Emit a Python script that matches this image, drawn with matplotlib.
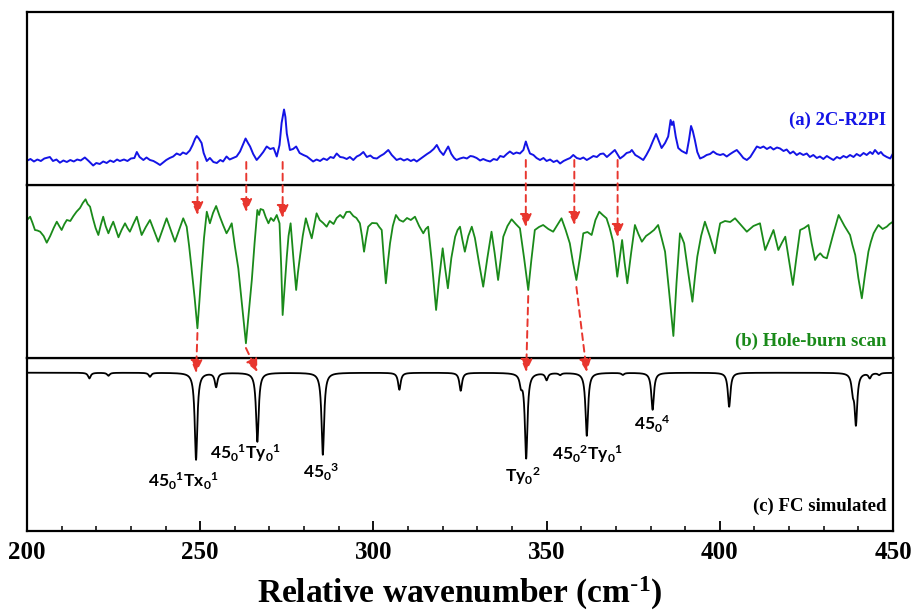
import numpy as np
import matplotlib
matplotlib.use("Agg")
import matplotlib.pyplot as plt
from matplotlib.patches import ConnectionPatch
from matplotlib.ticker import MultipleLocator

plt.rcParams["mathtext.default"] = "regular"

# ---------------- data ----------------
# (a) 2C-R2PI spectrum: wavenumber (cm^-1), signal (arb. units)
r2pi = [
    (200, 24.3), (201, 26), (202, 23.5), (203, 25.5), (204, 24), (205, 26.5),
    (206.6, 28), (207.5, 24), (208.5, 25.5), (209.5, 22.3), (210.5, 24.5),
    (211.5, 23), (212.5, 25), (213.5, 23.5), (214.5, 25.5), (215.5, 24.5),
    (216.7, 27.5), (217.8, 24), (219.1, 19.5), (220, 22), (221, 21), (222, 23.5),
    (223, 22), (224, 24.5), (225, 23), (226, 25.5), (226.8, 24), (228, 25.5),
    (229, 24), (230, 26.5), (231, 27), (231.7, 33), (232.5, 28), (233.6, 25),
    (234.5, 27.5), (235.5, 25), (236.5, 24), (237.5, 22), (238.4, 20),
    (239.3, 22.5), (240.2, 25), (241.2, 27), (242.2, 28.5), (243.2, 31.5),
    (244.2, 30), (245, 32.5), (246, 31), (247, 34.5), (247.8, 40), (248.5, 46),
    (249, 49), (249.6, 46.5), (250.4, 42), (251, 32), (251.9, 24), (252.8, 27),
    (253.8, 23), (254.8, 22), (255.8, 25), (256.6, 23.5), (257.6, 28.5),
    (258.5, 25.5), (259.5, 27), (260.5, 28.5), (261.5, 33.5), (262.3, 40),
    (263.1, 46.5), (263.8, 42), (264.4, 38.5), (265.3, 31), (266.3, 25),
    (267.3, 29), (268.2, 33), (269.2, 38.5), (270.2, 36), (271.2, 37),
    (272.1, 28.5), (272.9, 40), (273.5, 62), (274.2, 75.5), (274.6, 68),
    (275, 51.5), (275.5, 42), (275.9, 35), (276.8, 36), (277.7, 38.5),
    (278.7, 32), (279.8, 30), (280.8, 28.5), (281.7, 26), (282.6, 23.5),
    (283.6, 25.5), (284.6, 24), (285.6, 26.5), (286.6, 25), (287.6, 28),
    (288.5, 27), (289.4, 31.5), (290.4, 28), (291.3, 27.5), (292.3, 26),
    (293.2, 28), (294.2, 25), (295.2, 28.5), (296.1, 30), (297.1, 33),
    (298.1, 28), (299.1, 29.5), (300, 27), (301, 26.5), (302, 29), (303, 31),
    (304.3, 35), (305.3, 30), (306.7, 25), (307.8, 26.5), (308.8, 24.5),
    (309.8, 26), (310.8, 24), (311.7, 25.5), (312.5, 23.5), (313.5, 26),
    (314.5, 28.5), (315.5, 31), (316.4, 33), (317.4, 36), (318.3, 40),
    (319.2, 34), (320.2, 30), (321, 35), (321.6, 38.5), (322.5, 31),
    (323.3, 27), (324, 25), (325, 26.5), (326, 27.5), (327, 26.5), (328, 29),
    (328.8, 28.5), (329.8, 27), (330.8, 24.5), (331.7, 26), (332.7, 24.5),
    (333.7, 23.5), (334.7, 26), (335.7, 25), (336.6, 29), (337.6, 28),
    (338.5, 31), (339.4, 33.5), (340.4, 31), (341.3, 32.5), (342.3, 31.5),
    (343.3, 35), (344, 43.5), (344.6, 37), (345.2, 31.5), (346.2, 30),
    (347.1, 27), (348.1, 25), (349.1, 27), (350, 24), (351, 25.5), (352, 23),
    (353, 24.5), (353.9, 21.5), (354.9, 24), (355.8, 25.5), (356.8, 27),
    (357.7, 30), (358.7, 27), (359.7, 26), (360.6, 27.5), (361.6, 25),
    (362.6, 27), (363.5, 29), (364.5, 28), (365.5, 31), (366.4, 31.5),
    (367.4, 28), (368.4, 31), (369.7, 35), (370.4, 31), (371.2, 26.5),
    (372.2, 29), (373.1, 32), (374.1, 33), (374.6, 35), (375.6, 30),
    (376.6, 28), (377.9, 25), (378.8, 30), (379.8, 36.5), (380.7, 44),
    (381.6, 51), (382.4, 44), (383.2, 37), (384.2, 42), (385.1, 48.5),
    (385.8, 65), (386.2, 60), (386.6, 63.5), (387.3, 48), (388, 37), (389, 34),
    (390.4, 31.5), (391.1, 45), (391.7, 59), (392.2, 54), (392.8, 45),
    (393.5, 33), (394.3, 26.5), (395.3, 28), (396.2, 30), (397.2, 31),
    (398.1, 33.5), (399.1, 31), (400.1, 30), (401, 31), (402, 28.5), (403, 31),
    (403.9, 33), (404.9, 35), (405.9, 31), (406.8, 27), (407.8, 25),
    (408.8, 28), (409.7, 33), (410.7, 38.5), (411.7, 37), (412.6, 38.5),
    (413.6, 36), (414.6, 38), (415.5, 35.5), (416.5, 37.5), (417.4, 36.5),
    (418.4, 34), (419.3, 35.5), (420.3, 31.5), (421.2, 33.5), (422.2, 30),
    (423.1, 32), (424.1, 30), (425.1, 31.5), (426, 28), (427, 30), (428, 27),
    (428.9, 28.5), (429.9, 26), (430.9, 29), (431.8, 27), (432.8, 25),
    (433.8, 28), (434.7, 26.5), (435.7, 29), (436.6, 27.5), (437.6, 30),
    (438.6, 28), (439.5, 31), (440.5, 29), (441.5, 32), (442.4, 30),
    (443.4, 33), (444.1, 31), (444.8, 35), (445.8, 31), (446.5, 33),
    (447.2, 30), (448.2, 28), (449.2, 26.5), (450, 31.5),
]
r2pi_x = [p[0] for p in r2pi]
r2pi_y = [p[1] for p in r2pi]

# (b) hole-burn scan: wavenumber (cm^-1), signal (arb. units)
holeburn = [
    (200, 138), (200.9, 141.3), (201.6, 135), (202.3, 128), (203, 127.5),
    (203.8, 126.3), (204.8, 122), (205.7, 115.3), (206.7, 122), (207.7, 130),
    (208.6, 136.3), (209.3, 132), (210, 128), (210.8, 134), (211.5, 138),
    (212.5, 137), (213.4, 142), (214.3, 146.3), (215.3, 150), (216.1, 155),
    (216.9, 158.7), (217.5, 154), (218.2, 151.3), (219, 140), (219.8, 130),
    (220.6, 123), (221.3, 133), (222, 141.3), (222.7, 132), (223.5, 124.7),
    (224.2, 131), (224.9, 136.3), (225.7, 128), (226.4, 120.7), (227.3, 128),
    (228.3, 134.7), (229, 130), (229.7, 126.3), (230.7, 134), (231.7, 141.3),
    (232.4, 132), (233.1, 123), (234.3, 131), (235.5, 138), (236.7, 127),
    (237.9, 116.3), (239.1, 128), (240.3, 139.7), (241.5, 128), (242.7, 116.3),
    (243.9, 128), (245.1, 139.7), (246.1, 131.3), (246.8, 112), (247.5, 89.7),
    (248.4, 60), (249.2, 29.7), (249.8, 58), (250.4, 88), (251.1, 120),
    (251.9, 146.3), (252.8, 134.7), (253.7, 145), (254.6, 152), (255.6, 142),
    (256.6, 133), (257.6, 124.7), (258.3, 129), (259.1, 134.7), (260, 112),
    (261, 89.7), (262.1, 52), (263.2, 14.7), (264, 45), (264.9, 78),
    (265.7, 115), (266.5, 148), (267, 143), (267.4, 149), (268.2, 148),
    (268.9, 141), (269.7, 134.7), (270.4, 140), (271.2, 137), (272.1, 143),
    (272.9, 134.7), (273.4, 90), (273.8, 43), (274.4, 72), (275, 101.3),
    (275.5, 122), (276.1, 134.7), (276.9, 100), (277.7, 68), (278.2, 85),
    (278.8, 101.3), (279.6, 122), (280.5, 139.7), (281.3, 130), (282.2, 119.7),
    (282.9, 132), (283.6, 144.7), (284.5, 138), (285.5, 135), (286.5, 131.3),
    (287.4, 137), (288.5, 134), (289.4, 140), (290.4, 143), (291.3, 140),
    (292.2, 146), (293.2, 146.3), (294.2, 142), (295.1, 140), (296.1, 134.7),
    (296.7, 122), (297.3, 106.3), (297.9, 120), (298.5, 131.3), (299.6, 135),
    (301, 134.7), (301.7, 131), (302.4, 128), (303, 100), (303.6, 74.7),
    (304.2, 96), (304.8, 114.7), (305.6, 132), (306.5, 143), (307.5, 138),
    (308.6, 136.3), (309.7, 140), (310.8, 138), (312, 141.3), (313.2, 132),
    (314.4, 124.7), (315.1, 129), (315.8, 131.3), (316.9, 95), (318.1, 48),
    (319, 80), (320, 109.7), (320.7, 90), (321.5, 69.7), (322.5, 100),
    (323.6, 121.3), (324.3, 128), (325, 131.3), (325.7, 118), (326.4, 106.3),
    (327.4, 122), (328.4, 131.3), (329.3, 120), (330.5, 95), (331.7, 71.3),
    (332.9, 100), (334.1, 126.3), (335, 105), (336, 78), (336.8, 100),
    (337.5, 121.3), (338.7, 132), (339.9, 138.7), (341.1, 134), (342.3, 129.7),
    (343.5, 100), (344.7, 68), (345.6, 98), (346.6, 128), (347.8, 131),
    (349, 133), (350.5, 129), (351.9, 126.3), (353.1, 133), (354.3, 139.7),
    (355.5, 128), (356.7, 114.7), (357.6, 96), (358.6, 78), (359.6, 100),
    (360.6, 124.7), (361.8, 126), (363, 123), (364.1, 138), (365.2, 146.3),
    (366.2, 143), (367.3, 139.7), (368.2, 130), (369.2, 116.3), (369.8, 100),
    (370.4, 81.3), (371.1, 100), (371.8, 118), (372.5, 96), (373.3, 74.7),
    (374.4, 105), (375.5, 133), (376.5, 124), (377.5, 116.3), (378.7, 122),
    (379.8, 124.7), (381, 128), (382.2, 133), (383.2, 120), (384.2, 106.3),
    (385.4, 65), (386.6, 22), (387.5, 75), (388.5, 124.7), (389.1, 120),
    (389.7, 114.7), (390.9, 85), (392.1, 56.3), (392.8, 80), (393.5, 101.3),
    (394.6, 122), (395.7, 136.3), (397.1, 122), (398.6, 104.7), (399.3, 120),
    (400.1, 134.7), (401.5, 137), (403, 136), (404.4, 139.7), (406.1, 133),
    (407.8, 126.3), (409.7, 132), (411.6, 134.7), (412.3, 122), (413.1, 108),
    (414.3, 118), (415.5, 128), (416.2, 118), (416.9, 108), (417.9, 115),
    (418.9, 121.3), (420, 97), (421.1, 73), (422.1, 100), (423.2, 128),
    (424.4, 130), (425.6, 133), (426.5, 115), (427.5, 98), (428.2, 102),
    (429, 104.7), (429.9, 101), (430.9, 99.7), (432.6, 122), (434.3, 143),
    (436, 132), (437.6, 123), (438.3, 113), (439.1, 103), (440, 80),
    (441, 59.7), (441.9, 83), (442.9, 106.3), (443.6, 116), (444.4, 124.7),
    (445.1, 129), (445.8, 133), (447, 129), (448.2, 131.3), (449, 134),
    (450, 136.3),
]
hb_x = [p[0] for p in holeburn]
hb_y = [p[1] for p in holeburn]

# (c) Franck-Condon stick spectrum: positions (cm^-1) and intensities
fc_pos = [218.0, 223.5, 235.5, 248.8, 254.6, 266.5, 285.4, 307.5, 325.2, 342.6,
          344.1, 350.0, 353.9, 361.6, 372.0, 380.6, 402.7, 438.4, 439.3, 443.3,
          446.0]
fc_int = [5.7, 3, 4, 87, 14, 69, 82, 17, 18, 10,
          85, 7, 2, 63, 2, 37, 34, 15, 50, 5,
          2]
fc_baseline = 158.3
fc_hwhm = 0.45

# vibronic assignments: label, position, height
assign_text = [r"45$_0$$^1$Tx$_0$$^1$", r"45$_0$$^1$Ty$_0$$^1$", r"45$_0$$^3$",
               r"Ty$_0$$^2$", r"45$_0$$^2$Ty$_0$$^1$", r"45$_0$$^4$"]
assign_x = [245.3, 263.0, 284.9, 343.2, 361.8, 380.4]
assign_y = [44, 72, 53, 49, 71, 101]

# correlation arrows (a)->(b): x, y start in (a), y end in (b)
ab_x = [249.2, 263.3, 273.8, 344.0, 358.0, 370.5]
ab_y0 = [23, 23, 23, 25, 25, 25]
ab_y1 = [143, 146, 140, 131, 133, 121]
# correlation arrows (b)->(c): start x, y in (b); end x, y in (c)
bc_x0 = [249.2, 263.2, 344.7, 358.6]
bc_y0 = [25, 10, 62, 71]
bc_x1 = [248.8, 266.5, 344.1, 361.6]
bc_y1 = [158, 159, 159, 159]

# ---------------- figure ----------------
W, H = 913, 611
fig = plt.figure(figsize=(W / 100, H / 100), dpi=100)
left, right = 27 / W, 893 / W
ph = 173 / H
ax_c = fig.add_axes([left, 80 / H, right - left, ph])
ax_b = fig.add_axes([left, 253 / H, right - left, ph], sharex=ax_c)
ax_a = fig.add_axes([left, 426 / H, right - left, ph], sharex=ax_c)

blue = "#1414E6"
green = "#1A8A1A"
red = "#E8362E"

ax_a.plot(r2pi_x, r2pi_y, color=blue, lw=1.4)
ax_b.plot(hb_x, hb_y, color=green, lw=1.3)

grid = np.linspace(200, 450, 10001)
fc_curve = np.full_like(grid, fc_baseline)
for p, a in zip(fc_pos, fc_int):
    fc_curve -= a * fc_hwhm ** 2 / ((grid - p) ** 2 + fc_hwhm ** 2)
ax_c.plot(grid, fc_curve, color="black", lw=1.3)

for ax in (ax_a, ax_b, ax_c):
    ax.set_ylim(0, 173)
    ax.set_xlim(200, 450)
    for s in ax.spines.values():
        s.set_linewidth(1.6)
    ax.tick_params(left=False, labelleft=False)
for ax in (ax_a, ax_b):
    ax.tick_params(bottom=False, labelbottom=False, which="both")

ax_c.xaxis.set_major_locator(MultipleLocator(50))
ax_c.xaxis.set_minor_locator(MultipleLocator(10))
ax_c.tick_params(axis="x", which="major", direction="in", length=7.5, width=1.3,
                 pad=7, labelsize=18)
ax_c.tick_params(axis="x", which="minor", direction="in", length=3.8, width=1.1)
for lab in ax_c.get_xticklabels():
    lab.set_fontfamily("Liberation Serif")
    lab.set_fontweight("bold")
ax_c.set_xlabel(r"Relative wavenumber (cm$^{\text{-}1}$)", fontfamily="Liberation Serif",
                fontweight="bold", fontsize=24, labelpad=8)

serif = dict(fontfamily="Liberation Serif", fontweight="bold", fontsize=13.5,
             ha="right", va="center")
ax_a.text(0.992, 0.376, "(a) 2C-R2PI", color=blue, transform=ax_a.transAxes, **serif)
ax_b.text(0.992, 0.098, "(b) Hole-burn scan", color=green, transform=ax_b.transAxes, **serif)
ax_c.text(0.992, 0.14, "(c) FC simulated", color="black", transform=ax_c.transAxes, **serif)

for t, x, y in zip(assign_text, assign_x, assign_y):
    ax_c.text(x, y, t, fontfamily="Lato", fontweight="bold", fontsize=12.5,
              ha="center", va="baseline")

arrow_kw = dict(arrowstyle="-|>,head_length=0.55,head_width=0.25", color=red,
                lw=1.4, linestyle=(0, (3.5, 2.5)), mutation_scale=14,
                shrinkA=0, shrinkB=0)
for x, y0, y1 in zip(ab_x, ab_y0, ab_y1):
    fig.add_artist(ConnectionPatch(xyA=(x, y0), coordsA=ax_a.transData,
                                   xyB=(x, y1), coordsB=ax_b.transData, **arrow_kw))
for x0, y0, x1, y1 in zip(bc_x0, bc_y0, bc_x1, bc_y1):
    fig.add_artist(ConnectionPatch(xyA=(x0, y0), coordsA=ax_b.transData,
                                   xyB=(x1, y1), coordsB=ax_c.transData, **arrow_kw))

fig.savefig("out.png", dpi=100)
